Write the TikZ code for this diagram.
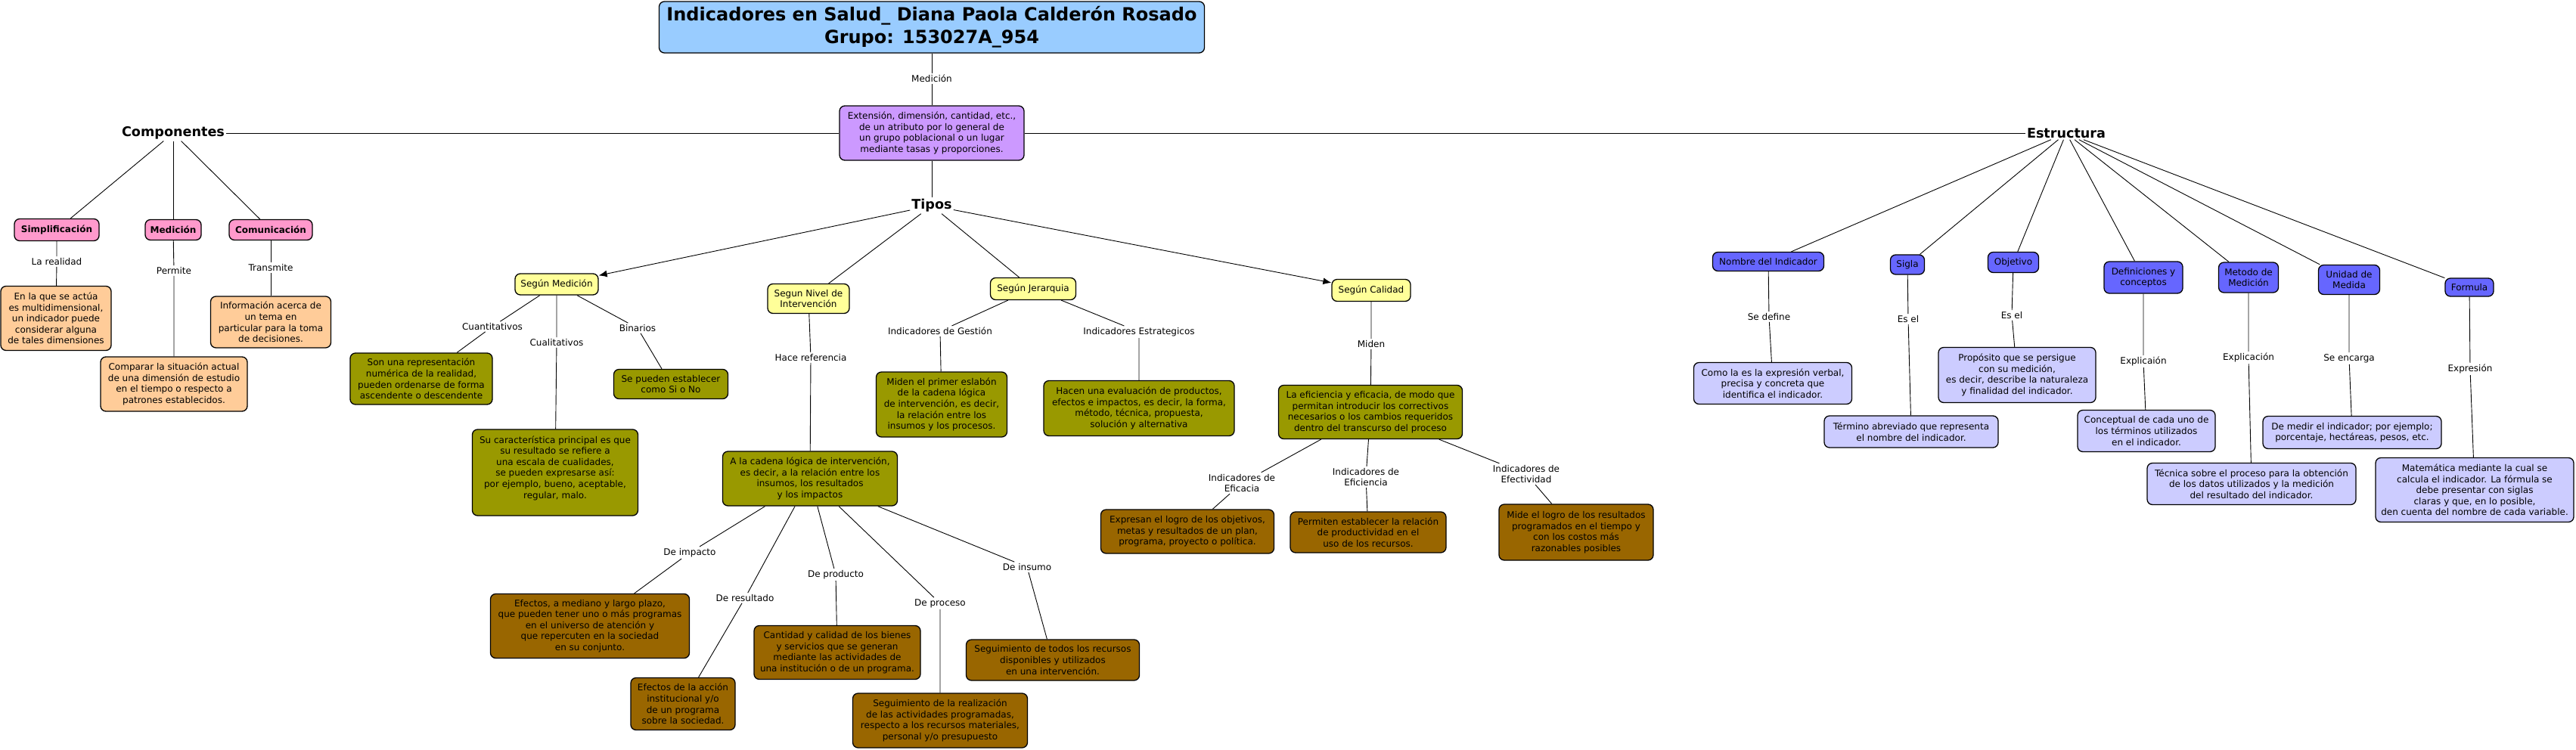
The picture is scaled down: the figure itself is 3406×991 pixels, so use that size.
\documentclass[tikz,border=0pt]{standalone}
\usepackage{fontspec}
\setmainfont{DejaVu Sans}
\usetikzlibrary{arrows.meta}
\definecolor{cTitle}{HTML}{99CCFF}
\definecolor{cPurple}{HTML}{CC99FF}
\definecolor{cPink}{HTML}{FF99CC}
\definecolor{cOrange}{HTML}{FFCC99}
\definecolor{cYellow}{HTML}{FFFF99}
\definecolor{cOlive}{HTML}{999900}
\definecolor{cBrown}{HTML}{996600}
\definecolor{cBlue}{HTML}{6666FF}
\definecolor{cLav}{HTML}{CCCCFF}
\begin{document}
\begin{tikzpicture}[x=1pt,y=-1pt,
  base/.style={draw=black, line width=1.3pt, rounded corners=7pt, align=center, inner sep=2pt, text=black, font=\fontsize{12}{14.6}\selectfont},
  titlebox/.style={base, fill=cTitle, font=\bfseries\fontsize{24}{30}\selectfont},
  purplebox/.style={base, fill=cPurple},
  pinkbox/.style={base, fill=cPink, font=\bfseries\fontsize{12}{14.6}\selectfont},
  orangebox/.style={base, fill=cOrange},
  yellowbox/.style={base, fill=cYellow},
  olivebox/.style={base, fill=cOlive},
  brownbox/.style={base, fill=cBrown},
  bluebox/.style={base, fill=cBlue},
  lavbox/.style={base, fill=cLav},
  lbl/.style={align=center, inner sep=2pt, font=\fontsize{12}{14.6}\selectfont},
  hd/.style={inner sep=2pt, font=\bfseries\fontsize{17.6}{20}\selectfont},
  conn/.style={draw=black, line width=0.9pt},
  arr/.style={conn, -{Latex[length=11pt,width=9pt]}}
]
\fill[white] (0,0) rectangle (3406,991);
\useasboundingbox (0,0) rectangle (3406,991);

% top
\node[titlebox, minimum width=721, minimum height=68] (title) at (1232,36) {Indicadores en Salud\_ Diana Paola Calderón Rosado\\Grupo: 153027A\_954};
\node[lbl] (lmed) at (1232,104) {Medición};
\node[purplebox, minimum width=244, minimum height=72] (ext) at (1232,176) {Extensión, dimensión, cantidad, etc.,\\de un atributo por lo general de\\un grupo poblacional o un lugar\\mediante tasas y proporciones.};
\node[hd] (comp) at (229,176) {Componentes};
\node[hd] (estr) at (2732,176) {Estructura};
\node[hd] (tipos) at (1232,272) {Tipos};

% componentes
\node[pinkbox, minimum width=112, minimum height=29] (simp) at (75,304) {Simplificación};
\node[pinkbox, minimum width=74, minimum height=27] (medi) at (229,304) {Medición};
\node[pinkbox, minimum width=110, minimum height=27] (comu) at (358,304) {Comunicación};
\node[lbl] (lrea) at (75,346) {La realidad};
\node[lbl] (lperm) at (230,358) {Permite};
\node[lbl] (ltran) at (358,354) {Transmite};
\node[orangebox, minimum width=146, minimum height=85] (o1) at (74,421) {En la que se actúa\\es multidimensional,\\un indicador puede\\considerar alguna\\de tales dimensiones};
\node[orangebox, minimum width=194, minimum height=72] (o2) at (230,508) {Comparar la situación actual\\de una dimensión de estudio\\en el tiempo o respecto a\\patrones establecidos.};
\node[orangebox, minimum width=159, minimum height=68] (o3) at (358,426) {Información acerca de\\un tema en\\particular para la toma\\de decisiones.};

% tipos
\node[yellowbox, minimum width=110, minimum height=28] (smed) at (736,376) {Según Medición};
\node[yellowbox, minimum width=108, minimum height=39] (snivel) at (1069,395) {Segun Nivel de\\Intervención};
\node[yellowbox, minimum width=113, minimum height=29] (sjer) at (1366,382) {Según Jerarquia};
\node[yellowbox, minimum width=104, minimum height=29] (scal) at (1813,384) {Según Calidad};

\node[lbl] (lcuant) at (651,432) {Cuantitativos};
\node[lbl] (lcual) at (736,453) {Cualitativos};
\node[lbl] (lbin) at (843,434) {Binarios};
\node[olivebox, minimum width=188, minimum height=68] (g1) at (557,501) {Son una representación\\numérica de la realidad,\\pueden ordenarse de forma\\ascendente o descendente};
\node[olivebox, minimum width=219, minimum height=114] (g2) at (734,625) {Su característica principal es que\\su resultado se refiere a\\una escala de cualidades,\\se pueden expresarse así:\\por ejemplo, bueno, aceptable,\\regular, malo.\\\mbox{}};
\node[olivebox, minimum width=151, minimum height=39] (g3) at (887,508) {Se pueden establecer\\como Si o No};

\node[lbl] (lhace) at (1072,473) {Hace referencia};
\node[olivebox, minimum width=231, minimum height=72] (ga) at (1071,633) {A la cadena lógica de intervención,\\es decir, a la relación entre los\\insumos, los resultados\\y los impactos};

\node[lbl] (lgest) at (1243,438) {Indicadores de Gestión};
\node[olivebox, minimum width=173, minimum height=86] (ggest) at (1245,535) {Miden el primer eslabón\\de la cadena lógica\\de intervención, es decir,\\la relación entre los\\insumos y los procesos.};
\node[lbl] (lestr) at (1506,439) {Indicadores Estrategicos};
\node[olivebox, minimum width=252, minimum height=73] (gestr) at (1506,540) {Hacen una evaluación de productos,\\efectos e impactos, es decir, la forma,\\método, técnica, propuesta,\\solución y alternativa};

\node[lbl] (lmiden) at (1813,455) {Miden};
\node[olivebox, minimum width=243, minimum height=71] (gcal) at (1812,545) {La eficiencia y eficacia, de modo que\\permitan introducir los correctivos\\necesarios o los cambios requeridos\\dentro del transcurso del proceso};
\node[lbl] (lefic) at (1642,639) {Indicadores de\\Eficacia};
\node[lbl] (lefi) at (1806,631) {Indicadores de\\Eficiencia};
\node[lbl] (lefe) at (2018,627) {Indicadores de\\Efectividad};
\node[brownbox, minimum width=229, minimum height=58] (befic) at (1570,703) {Expresan el logro de los objetivos,\\metas y resultados de un plan,\\programa, proyecto o política.};
\node[brownbox, minimum width=206, minimum height=54] (befi) at (1809,704) {Permiten establecer la relación\\de productividad en el\\uso de los recursos.};
\node[brownbox, minimum width=204, minimum height=74] (befe) at (2084,704) {Mide el logro de los resultados\\programados en el tiempo y\\con los costos más\\razonables posibles};

\node[lbl] (limp) at (912,731) {De impacto};
\node[lbl] (lres) at (985,791) {De resultado};
\node[lbl] (lprod) at (1105,760) {De producto};
\node[lbl] (lproc) at (1243,798) {De proceso};
\node[lbl] (lins) at (1358,750) {De insumo};
\node[brownbox, minimum width=263, minimum height=85] (bimp) at (780,828) {Efectos, a mediano y largo plazo,\\que pueden tener uno o más programas\\en el universo de atención y\\que repercuten en la sociedad\\en su conjunto.};
\node[brownbox, minimum width=138, minimum height=69] (bres) at (903,931) {Efectos de la acción\\institucional y/o\\de un programa\\sobre la sociedad.};
\node[brownbox, minimum width=220, minimum height=71] (bprod) at (1107,863) {Cantidad y calidad de los bienes\\y servicios que se generan\\mediante las actividades de\\una institución o de un programa.};
\node[brownbox, minimum width=231, minimum height=72] (bproc) at (1243,953) {Seguimiento de la realización\\de las actividades programadas,\\respecto a los recursos materiales,\\personal y/o presupuesto};
\node[brownbox, minimum width=229, minimum height=54] (bins) at (1392,873) {Seguimiento de todos los recursos\\disponibles y utilizados\\en una intervención.};

% estructura
\node[bluebox, minimum width=147, minimum height=25] (nom) at (2338,346) {Nombre del Indicador};
\node[bluebox, minimum width=45, minimum height=26] (sig) at (2522,350) {Sigla};
\node[bluebox, minimum width=67, minimum height=27] (obj) at (2662,347) {Objetivo};
\node[bluebox, minimum width=104, minimum height=42] (def) at (2834,367) {Definiciones y\\conceptos};
\node[bluebox, minimum width=79, minimum height=40] (met) at (2973,367) {Metodo de\\Medición};
\node[bluebox, minimum width=81, minimum height=39] (uni) at (3106,370) {Unidad de\\Medida};
\node[bluebox, minimum width=64, minimum height=24] (form) at (3265,380) {Formula};

\node[lbl] (lsedef) at (2339,419) {Se define};
\node[lbl] (lesel1) at (2523,422) {Es el};
\node[lbl] (lesel2) at (2660,417) {Es el};
\node[lbl] (lexpl1) at (2834,478) {Explicaión};
\node[lbl] (lexpl2) at (2973,473) {Explicación};
\node[lbl] (lseenc) at (3106,474) {Se encarga};
\node[lbl] (lexpr) at (3266,488) {Expresión};

\node[lavbox, minimum width=209, minimum height=55] (v1) at (2344,507) {Como la es la expresión verbal,\\precisa y concreta que\\identifica el indicador.};
\node[lavbox, minimum width=230, minimum height=42] (v2) at (2527,571) {Término abreviado que representa\\el nombre del indicador.};
\node[lavbox, minimum width=208, minimum height=73] (v3) at (2667,496) {Propósito que se persigue\\con su medición,\\es decir, describe la naturaleza\\y finalidad del indicador.};
\node[lavbox, minimum width=182, minimum height=55] (v4) at (2838,570) {Conceptual de cada uno de\\los términos utilizados\\en el indicador.};
\node[lavbox, minimum width=276, minimum height=55] (v5) at (2977,640) {Técnica sobre el proceso para la obtención\\de los datos utilizados y la medición\\del resultado del indicador.};
\node[lavbox, minimum width=236, minimum height=43] (v6) at (3110,572) {De medir el indicador; por ejemplo;\\porcentaje, hectáreas, pesos, etc.};
\node[lavbox, minimum width=262, minimum height=85] (v7) at (3272,648) {Matemática mediante la cual se\\calcula el indicador. La fórmula se\\debe presentar con siglas\\claras y que, en lo posible,\\den cuenta del nombre de cada variable.};

% connectors
\draw[conn] (title) -- (lmed) -- (ext);
\draw[conn] (ext) -- (tipos);
\draw[conn] (ext) -- (comp);
\draw[conn] (ext) -- (estr);
\draw[conn] (comp) -- (simp);
\draw[conn] (comp) -- (medi);
\draw[conn] (comp) -- (comu);
\draw[conn] (simp) -- (lrea) -- (o1);
\draw[conn] (medi) -- (lperm) -- (o2);
\draw[conn] (comu) -- (ltran) -- (o3);
\draw[arr] (tipos) -- (smed);
\draw[conn] (tipos) -- (snivel);
\draw[conn] (tipos) -- (sjer);
\draw[arr] (tipos) -- (scal);
\draw[conn] (smed) -- (lcuant) -- (g1);
\draw[conn] (smed) -- (lcual) -- (g2);
\draw[conn] (smed) -- (lbin) -- (g3);
\draw[conn] (snivel) -- (lhace) -- (ga);
\draw[conn] (ga) -- (limp) -- (bimp);
\draw[conn] (ga) -- (lres) -- (bres);
\draw[conn] (ga) -- (lprod) -- (bprod);
\draw[conn] (ga) -- (lproc) -- (bproc);
\draw[conn] (ga) -- (lins) -- (bins);
\draw[conn] (sjer) -- (lgest) -- (ggest);
\draw[conn] (sjer) -- (lestr) -- (gestr);
\draw[conn] (scal) -- (lmiden) -- (gcal);
\draw[conn] (gcal) -- (lefic) -- (befic);
\draw[conn] (gcal) -- (lefi) -- (befi);
\draw[conn] (gcal) -- (lefe) -- (befe);
\draw[conn] (estr) -- (nom);
\draw[conn] (estr) -- (sig);
\draw[conn] (estr) -- (obj);
\draw[conn] (estr) -- (def);
\draw[conn] (estr) -- (met);
\draw[conn] (estr) -- (uni);
\draw[conn] (estr) -- (form);
\draw[conn] (nom) -- (lsedef) -- (v1);
\draw[conn] (sig) -- (lesel1) -- (v2);
\draw[conn] (obj) -- (lesel2) -- (v3);
\draw[conn] (def) -- (lexpl1) -- (v4);
\draw[conn] (met) -- (lexpl2) -- (v5);
\draw[conn] (uni) -- (lseenc) -- (v6);
\draw[conn] (form) -- (lexpr) -- (v7);
\end{tikzpicture}
\end{document}
